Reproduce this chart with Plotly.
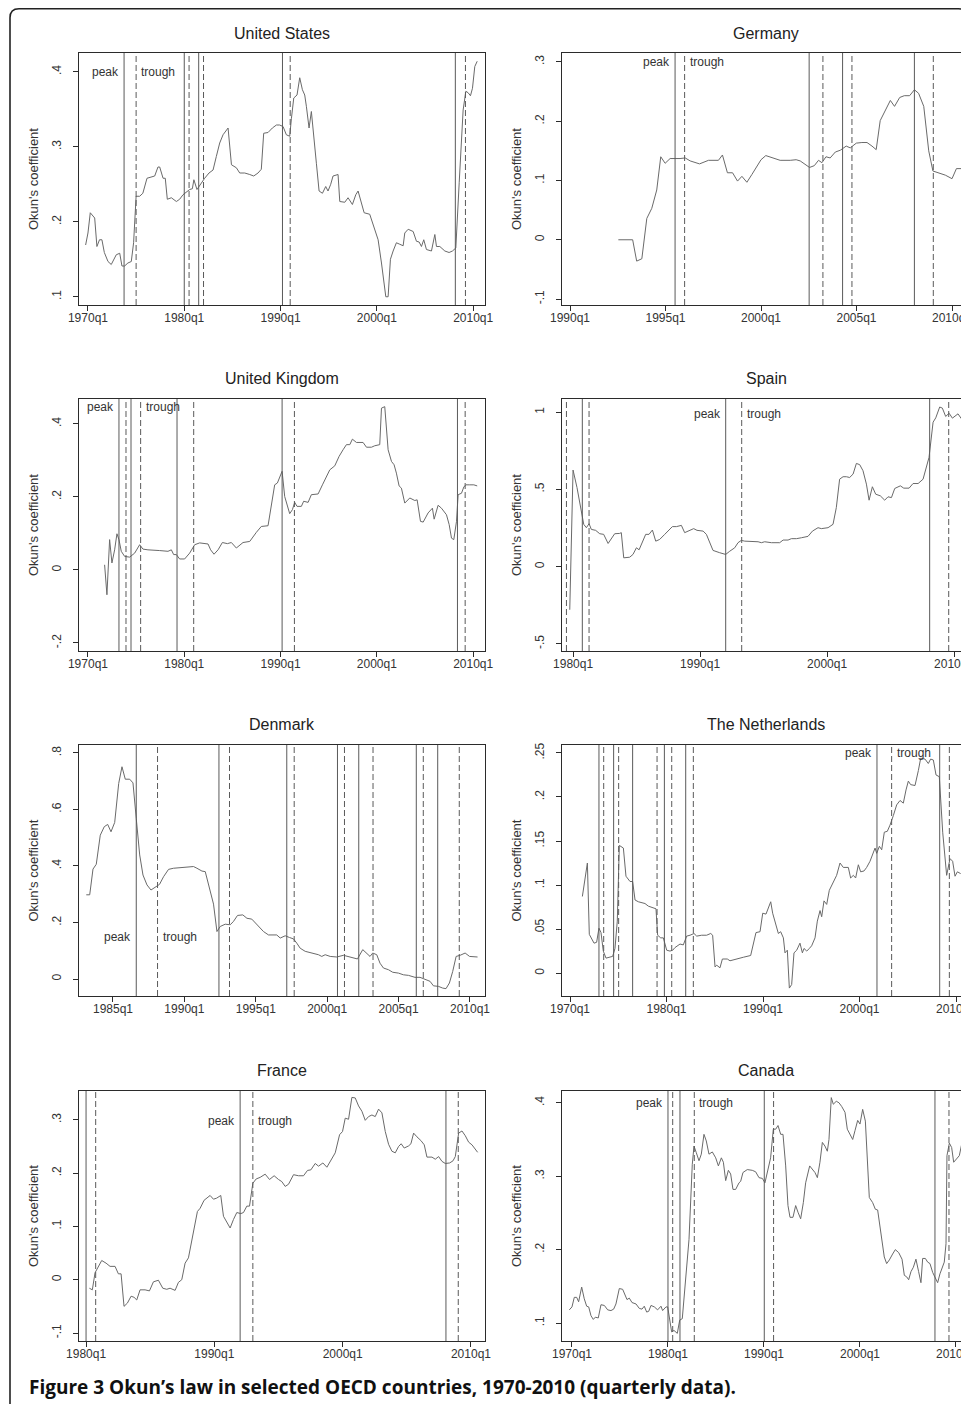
import plotly.graph_objects as go

# page is 969x1404; the page body keeps an 8px margin, so every page
# position is drawn 8px up/left of where it sits in the picture
W, H = 969, 1404
OFF = 8

# ── DATA (quarterly time as decimal year) ───────────────────────────────

# United States
us_t = [1969.76, 1970.0, 1970.24, 1970.7, 1970.93, 1971.2, 1971.45, 1971.7, 1972.08, 1972.42,
        1972.94, 1973.3, 1973.53, 1973.8, 1974.15, 1974.5, 1974.74, 1975.0, 1975.37, 1975.7,
        1976.13, 1976.58, 1976.93, 1977.27, 1977.45, 1977.8, 1978.03, 1978.24, 1978.66, 1979.18,
        1979.52, 1979.87, 1980.2, 1980.56, 1980.84, 1981.0, 1981.32, 1981.78, 1982.12, 1982.57,
        1982.99, 1983.33, 1983.68, 1984.03, 1984.55, 1984.9, 1985.41, 1985.76, 1986.28, 1986.8,
        1987.21, 1987.66, 1988.0, 1988.25, 1988.7, 1989.15, 1989.57, 1989.9, 1990.26, 1990.6,
        1990.95, 1991.13, 1991.37, 1991.71, 1991.99, 1992.27, 1992.51, 1992.68, 1992.96, 1993.2,
        1993.45, 1993.72, 1994.0, 1994.35, 1994.69, 1994.93, 1995.21, 1995.45, 1995.97, 1996.15,
        1996.67, 1997.01, 1997.46, 1997.81, 1998.05, 1998.4, 1998.68, 1999.26, 1999.68, 2000.13,
        2000.48, 2000.72, 2000.93, 2001.17, 2001.41, 2001.69, 2002.03, 2002.38, 2002.73, 2002.9,
        2003.25, 2003.77, 2004.11, 2004.39, 2004.63, 2004.87, 2005.15, 2005.67, 2006.02, 2006.19,
        2006.54, 2007.06, 2007.5, 2007.85, 2008.2, 2008.55, 2008.96, 2009.24, 2009.48, 2009.72,
        2009.93, 2010.17, 2010.42]
us_v = [.169, .185, .212, .205, .167, .176, .176, .159, .147, .143,
        .156, .158, .141, .141, .145, .147, .172, .234, .234, .238,
        .258, .260, .261, .273, .273, .258, .258, .230, .232, .227,
        .230, .236, .239, .243, .244, .256, .243, .252, .258, .265,
        .269, .287, .305, .316, .325, .276, .272, .265, .265, .263,
        .261, .265, .270, .318, .319, .325, .329, .329, .327, .316,
        .314, .338, .365, .369, .392, .376, .369, .354, .325, .347,
        .318, .278, .241, .238, .247, .241, .250, .261, .263, .227,
        .226, .232, .223, .236, .241, .225, .212, .210, .194, .176,
        .145, .119, .100, .100, .150, .161, .172, .170, .168, .185,
        .190, .187, .174, .173, .167, .176, .163, .161, .183, .167,
        .167, .161, .159, .161, .165, .252, .349, .374, .372, .368,
        .378, .407, .414]
us_peaks = [1973.75, 1980.0, 1981.5, 1990.2, 2008.15]
us_troughs = [1975.0, 1980.5, 1982.0, 1991.0, 2009.2]

# Germany
de_t = [1992.53, 1993.28, 1993.49, 1993.76, 1994.02, 1994.28, 1994.54, 1994.75, 1994.98, 1995.24,
        1995.76, 1996.03, 1996.29, 1996.78, 1997.25, 1997.77, 1997.98, 1998.24, 1998.51, 1998.77,
        1999.0, 1999.26, 1999.52, 1999.78, 2000.0, 2000.25, 2000.74, 2001.0, 2001.53, 2001.84,
        2002.05, 2002.31, 2002.54, 2002.79, 2003.01, 2003.19, 2003.4, 2003.62, 2003.89, 2004.15,
        2004.46, 2004.67, 2004.99, 2005.28, 2005.55, 2005.81, 2006.03, 2006.24, 2006.5, 2006.77,
        2006.99, 2007.26, 2007.5, 2007.78, 2008.03, 2008.25, 2008.52, 2008.78, 2009.0, 2009.3,
        2009.65, 2010.0, 2010.23, 2010.47]
de_v = [0, 0, -.036, -.032, .036, .053, .084, .140, .129, .137,
        .137, .138, .133, .128, .134, .134, .143, .113, .113, .099,
        .107, .097, .110, .123, .135, .142, .137, .134, .134, .135,
        .133, .127, .122, .125, .134, .130, .140, .138, .148, .151,
        .158, .155, .163, .164, .164, .158, .152, .201, .218, .235,
        .225, .240, .243, .243, .253, .247, .225, .150, .116, .113,
        .109, .103, .120, .120]
de_peaks = [1995.5, 2002.52, 2004.27, 2008.03]
de_troughs = [1996.0, 2003.24, 2004.76, 2009.02]

# United Kingdom
uk_t = [1971.73, 1971.97, 1972.25, 1972.49, 1972.77, 1973.01, 1973.22, 1973.46, 1973.81, 1974.33,
        1974.85, 1975.37, 1975.71, 1976.23, 1977.45, 1978.31, 1978.66, 1978.9, 1979.18, 1979.52,
        1980.04, 1980.56, 1981.08, 1981.6, 1982.47, 1982.74, 1983.09, 1983.51, 1983.96, 1984.48,
        1984.89, 1985.41, 1986.1, 1986.8, 1987.49, 1988.0, 1988.7, 1989.05, 1989.39, 1989.67,
        1989.91, 1990.16, 1990.43, 1990.71, 1990.95, 1991.23, 1991.47, 1991.71, 1992.16, 1992.4,
        1992.86, 1993.2, 1993.9, 1994.35, 1994.76, 1995.11, 1995.63, 1996.08, 1996.49, 1996.84,
        1997.19, 1997.46, 1997.88, 1998.57, 1998.92, 1999.44, 1999.78, 2000.13, 2000.3, 2000.48,
        2000.82, 2001.17, 2001.52, 2001.79, 2002.03, 2002.31, 2002.55, 2002.9, 2003.42, 2003.94,
        2004.18, 2004.53, 2004.81, 2005.32, 2005.77, 2005.95, 2006.36, 2006.71, 2007.23, 2007.51,
        2007.75, 2007.99, 2008.27, 2008.44, 2008.79, 2009.03, 2009.24, 2009.65, 2010.07, 2010.42]
uk_v = [.014, -.068, .083, .019, .055, .099, .083, .051, .037, .035,
        .046, .069, .057, .055, .053, .051, .055, .042, .042, .030,
        .030, .046, .069, .074, .071, .055, .043, .055, .075, .072,
        .075, .060, .075, .078, .103, .119, .121, .174, .233, .238,
        .256, .270, .201, .174, .154, .165, .185, .174, .174, .188,
        .185, .206, .208, .233, .256, .274, .285, .311, .329, .343,
        .343, .358, .349, .349, .336, .336, .340, .343, .343, .443,
        .447, .329, .297, .288, .265, .230, .224, .183, .197, .190,
        .192, .133, .131, .156, .169, .139, .177, .169, .151, .124,
        .087, .083, .133, .206, .210, .227, .233, .233, .233, .230]
uk_peaks = [1973.22, 1974.47, 1979.25, 1990.16, 2008.37]
uk_troughs = [1973.95, 1975.47, 1980.98, 1991.44, 2009.17]

# Spain
es_t = [1979.74, 1980.0, 1980.31, 1980.66, 1980.84, 1981.05, 1981.26, 1981.44, 1981.78, 1982.1,
        1982.41, 1982.76, 1982.94, 1983.28, 1983.67, 1983.8, 1983.99, 1984.46, 1984.72, 1984.99,
        1985.2, 1985.46, 1985.72, 1985.98, 1986.25, 1986.51, 1986.82, 1987.22, 1987.48, 1987.82,
        1988.14, 1988.53, 1988.79, 1989.19, 1989.5, 1989.76, 1990.24, 1990.5, 1990.76, 1991.02,
        1991.55, 1992.02, 1992.34, 1992.73, 1992.99, 1993.25, 1993.52, 1994.04, 1994.57, 1994.83,
        1995.09, 1995.62, 1996.27, 1996.54, 1996.93, 1997.19, 1997.59, 1997.98, 1998.5, 1998.85,
        1999.29, 1999.55, 2000.08, 2000.47, 2000.73, 2000.99, 2001.26, 2001.52, 2001.78, 2002.05,
        2002.31, 2002.57, 2002.83, 2003.1, 2003.31, 2003.57, 2003.83, 2004.2, 2004.54, 2004.8,
        2005.07, 2005.33, 2005.77, 2006.04, 2006.46, 2006.77, 2007.17, 2007.56, 2007.82, 2008.03,
        2008.35, 2008.56, 2008.87, 2009.08, 2009.34, 2009.61, 2009.87, 2010.13, 2010.31, 2010.58]
es_v = [-.279, .625, .512, .361, .274, .252, .278, .241, .235, .213,
        .209, .150, .170, .213, .215, .220, .057, .061, .079, .122,
        .109, .159, .209, .209, .237, .165, .176, .209, .230, .259,
        .259, .267, .220, .235, .246, .235, .230, .209, .155, .105,
        .090, .079, .100, .122, .155, .170, .165, .165, .161, .155,
        .161, .155, .155, .172, .172, .181, .181, .187, .196, .230,
        .252, .246, .252, .274, .382, .566, .582, .582, .577, .599,
        .668, .660, .621, .534, .430, .517, .469, .458, .430, .452,
        .447, .506, .523, .508, .508, .538, .538, .566, .642, .707,
        .935, .963, 1.033, 1.026, .972, .993, .961, .978, .989, .957]
es_peaks = [1980.73, 1992.02, 2008.08]
es_troughs = [1979.48, 1981.26, 1993.28, 2009.58]

# Denmark
dk_t = [1983.13, 1983.37, 1983.6, 1983.83, 1984.11, 1984.39, 1984.63, 1984.86, 1985.12, 1985.4,
        1985.63, 1985.86, 1986.17, 1986.4, 1986.63, 1986.87, 1987.1, 1987.38, 1987.66, 1987.96,
        1988.26, 1988.54, 1988.89, 1989.24, 1989.94, 1990.64, 1990.88, 1991.23, 1991.46, 1991.76,
        1992.04, 1992.28, 1992.51, 1992.86, 1993.21, 1993.44, 1993.72, 1994.09, 1994.38, 1994.72,
        1994.96, 1995.26, 1995.54, 1995.89, 1996.19, 1996.47, 1996.71, 1997.06, 1997.36, 1997.64,
        1997.87, 1998.11, 1998.46, 1998.92, 1999.39, 1999.62, 1999.86, 2000.21, 2000.67, 2001.14,
        2001.6, 2002.12, 2002.49, 2002.77, 2003.0, 2003.19, 2003.47, 2003.7, 2003.94, 2004.29,
        2004.59, 2004.99, 2005.34, 2005.69, 2006.15, 2006.5, 2006.85, 2007.2, 2007.44, 2007.79,
        2008.09, 2008.32, 2008.56, 2008.79, 2009.03, 2009.31, 2009.66, 2009.97, 2010.53]
dk_v = [.298, .298, .389, .406, .509, .539, .547, .521, .554, .692,
        .751, .707, .707, .694, .568, .439, .368, .333, .315, .324,
        .335, .362, .388, .392, .394, .398, .392, .382, .380, .321,
        .265, .168, .186, .194, .192, .204, .225, .227, .215, .212,
        .198, .182, .168, .156, .156, .156, .145, .153, .147, .142,
        .127, .109, .098, .092, .086, .080, .086, .080, .078, .084,
        .077, .071, .104, .092, .080, .092, .086, .056, .039, .033,
        .024, .021, .015, .013, .006, .006, 0, -.008, -.024, -.026,
        -.032, -.034, -.014, .027, .080, .084, .092, .080, .078]
dk_peaks = [1986.63, 1992.42, 1997.17, 2000.72, 2002.21, 2006.24, 2007.74]
dk_troughs = [1988.12, 1993.16, 1997.69, 2001.21, 2003.21, 2006.73, 2009.25]

# The Netherlands
nl_t = [1971.28, 1971.8, 1972.0, 1972.49, 1972.76, 1973.0, 1973.21, 1973.45, 1973.73, 1974.15,
        1974.42, 1974.66, 1974.9, 1975.11, 1975.53, 1975.8, 1976.22, 1976.49, 1976.74, 1977.08,
        1977.53, 1977.77, 1978.12, 1978.64, 1978.91, 1979.08, 1979.4, 1979.67, 1980.02, 1980.36,
        1980.64, 1980.88, 1981.4, 1981.74, 1982.09, 1982.44, 1982.85, 1983.13, 1983.64, 1984.16,
        1984.58, 1984.78, 1985.03, 1985.2, 1985.54, 1985.79, 1986.3, 1986.58, 1987.2, 1987.96,
        1988.72, 1989.27, 1989.69, 1989.97, 1990.31, 1990.55, 1990.8, 1991.0, 1991.35, 1991.59,
        1991.83, 1992.11, 1992.28, 1992.52, 1992.73, 1992.97, 1993.21, 1993.49, 1993.83, 1994.08,
        1994.25, 1994.53, 1994.8, 1995.04, 1995.39, 1995.63, 1995.91, 1996.08, 1996.32, 1996.6,
        1996.87, 1997.29, 1997.63, 1997.98, 1998.32, 1998.84, 1999.08, 1999.36, 1999.6, 1999.88,
        2000.12, 2000.47, 2000.74, 2001.09, 2001.43, 2001.61, 2001.78, 2002.06, 2002.3, 2002.57,
        2002.88, 2003.16, 2003.51, 2003.85, 2004.2, 2004.54, 2004.82, 2005.06, 2005.3, 2005.75,
        2006.1, 2006.34, 2006.79, 2007.13, 2007.37, 2007.65, 2007.93, 2008.27, 2008.62, 2009.03,
        2009.38, 2009.65, 2009.9, 2010.14, 2010.48]
nl_v = [.087, .125, .044, .034, .035, .051, .046, .025, .017, .018,
        .019, .028, .059, .145, .142, .110, .104, .104, .083, .081,
        .080, .079, .076, .074, .073, .043, .040, .040, .026, .025,
        .026, .029, .033, .032, .042, .043, .045, .042, .043, .043,
        .045, .043, .007, .009, .006, .016, .016, .014, .016, .018,
        .020, .046, .047, .068, .067, .074, .081, .068, .055, .045,
        .047, .040, .023, .026, -.017, -.013, .023, .026, .034, .023,
        .028, .025, .028, .031, .040, .059, .071, .064, .082, .078,
        .094, .104, .111, .125, .120, .120, .108, .111, .108, .123,
        .115, .116, .120, .127, .138, .142, .136, .144, .140, .160,
        .161, .168, .179, .191, .196, .193, .208, .218, .214, .213,
        .230, .244, .243, .238, .243, .242, .225, .223, .160, .111,
        .130, .127, .110, .115, .113]
nl_peaks = [1973.0, 1974.52, 1976.49, 1979.78, 1981.99, 2001.81, 2008.31]
nl_troughs = [1973.49, 1975.04, 1979.02, 1980.54, 1982.78, 2003.33, 2009.31]

# France
fr_t = [1980.26, 1980.49, 1980.7, 1980.96, 1981.22, 1981.56, 1981.87, 1982.26, 1982.52, 1982.73,
        1982.96, 1983.22, 1983.51, 1983.74, 1983.95, 1984.21, 1984.6, 1984.94, 1985.25, 1985.64,
        1985.98, 1986.29, 1986.55, 1986.94, 1987.2, 1987.46, 1987.72, 1987.98, 1988.32, 1988.68,
        1988.89, 1989.2, 1989.67, 1989.93, 1990.18, 1990.5, 1990.71, 1990.92, 1991.23, 1991.49,
        1991.75, 1992.06, 1992.27, 1992.53, 1992.74, 1993.0, 1993.26, 1993.57, 1993.96, 1994.3,
        1994.66, 1995.0, 1995.26, 1995.52, 1995.78, 1996.17, 1996.56, 1996.95, 1997.26, 1997.52,
        1997.86, 1998.12, 1998.46, 1998.77, 1999.08, 1999.42, 1999.76, 1999.99, 2000.2, 2000.46,
        2000.72, 2000.98, 2001.24, 2001.5, 2001.76, 2002.02, 2002.28, 2002.54, 2002.8, 2003.06,
        2003.32, 2003.58, 2003.84, 2004.1, 2004.36, 2004.56, 2004.8, 2005.14, 2005.32, 2005.53,
        2005.79, 2006.1, 2006.36, 2006.57, 2006.96, 2007.22, 2007.48, 2007.74, 2008.0, 2008.34,
        2008.6, 2008.78, 2009.04, 2009.3, 2009.56, 2009.82, 2010.08, 2010.26, 2010.52]
fr_v = [-.016, -.019, .013, .025, .036, .031, .025, .025, .011, .011,
        -.050, -.044, -.031, -.033, -.038, -.019, -.019, -.021, -.004, -.001,
        -.016, -.018, -.016, -.020, -.005, 0, .031, .041, .081, .128,
        .134, .149, .158, .151, .153, .158, .119, .109, .097, .113,
        .126, .124, .126, .138, .138, .181, .189, .192, .198, .188,
        .195, .188, .184, .175, .179, .197, .195, .195, .205, .206,
        .218, .213, .219, .211, .225, .238, .272, .278, .303, .301,
        .342, .341, .326, .316, .299, .306, .309, .306, .320, .313,
        .278, .254, .241, .238, .250, .255, .247, .251, .255, .275,
        .268, .261, .253, .230, .230, .226, .231, .222, .218, .219,
        .223, .231, .275, .279, .270, .258, .253, .247, .239]
fr_peaks = [1980.0, 1992.01, 2008.05]
fr_troughs = [1980.75, 1993.0, 2009.01]

# Canada
ca_t = [1969.72, 1970.0, 1970.24, 1970.49, 1970.69, 1971.01, 1971.28, 1971.53, 1971.74, 1971.98,
        1972.22, 1972.43, 1972.74, 1973.02, 1973.37, 1973.72, 1974.06, 1974.34, 1974.58, 1974.93,
        1975.28, 1975.52, 1975.73, 1975.97, 1976.25, 1976.67, 1977.01, 1977.29, 1977.53, 1977.78,
        1977.99, 1978.23, 1978.58, 1978.92, 1979.27, 1979.44, 1979.79, 1979.97, 1980.1, 1980.38,
        1980.62, 1980.97, 1981.22, 1981.49, 1981.84, 1982.19, 1982.53, 1982.71, 1982.95, 1983.23,
        1983.47, 1983.75, 1983.99, 1984.27, 1984.62, 1984.97, 1985.25, 1985.56, 1985.77, 1986.01,
        1986.29, 1986.53, 1986.77, 1987.05, 1987.4, 1987.57, 1987.81, 1988.26, 1988.78, 1989.13,
        1989.48, 1989.83, 1990.1, 1990.35, 1990.69, 1990.97, 1991.22, 1991.46, 1991.74, 1991.98,
        1992.26, 1992.5, 1992.71, 1993.02, 1993.3, 1993.54, 1993.82, 1994.1, 1994.34, 1994.76,
        1995.03, 1995.31, 1995.56, 1995.83, 1996.08, 1996.35, 1996.6, 1996.77, 1997.01, 1997.22,
        1997.53, 1997.81, 1998.09, 1998.44, 1998.68, 1998.92, 1999.24, 1999.48, 1999.76, 2000.0,
        2000.28, 2000.56, 2000.8, 2000.97, 2001.32, 2001.6, 2001.84, 2002.08, 2002.29, 2002.53,
        2002.78, 2003.06, 2003.4, 2003.68, 2004.03, 2004.38, 2004.62, 2004.86, 2005.07, 2005.31,
        2005.56, 2005.83, 2006.11, 2006.35, 2006.53, 2006.81, 2007.05, 2007.29, 2007.57, 2007.85,
        2008.09, 2008.33, 2008.54, 2008.78, 2008.96, 2009.06, 2009.31, 2009.55, 2009.76, 2010.0,
        2010.35, 2010.63]
ca_v = [.118, .122, .135, .135, .129, .149, .133, .123, .122, .110,
        .105, .108, .107, .125, .124, .118, .117, .119, .126, .147,
        .146, .138, .132, .134, .128, .126, .120, .119, .123, .115,
        .116, .124, .122, .118, .123, .117, .122, .122, .110, .088,
        .090, .086, .104, .106, .160, .214, .316, .341, .332, .321,
        .330, .357, .348, .330, .333, .325, .314, .325, .319, .294,
        .308, .303, .282, .282, .291, .293, .305, .309, .308, .306,
        .298, .297, .291, .305, .325, .364, .364, .369, .357, .357,
        .314, .260, .244, .244, .260, .251, .242, .264, .291, .314,
        .310, .305, .298, .319, .346, .341, .334, .350, .407, .398,
        .402, .400, .395, .387, .364, .357, .350, .362, .376, .371,
        .391, .375, .323, .271, .264, .255, .254, .233, .208, .190,
        .181, .186, .194, .200, .196, .187, .165, .163, .159, .170,
        .176, .187, .170, .155, .188, .188, .183, .181, .169, .161,
        .155, .167, .176, .183, .208, .328, .345, .339, .319, .323,
        .328, .346]
ca_peaks = [1980.0, 1981.25, 1990.03, 2007.81]
ca_troughs = [1980.49, 1982.74, 1991.0, 2009.27]

# tick values / labels
x_ticks_70 = [1970, 1980, 1990, 2000, 2010]
x_text_70 = ['1970q1', '1980q1', '1990q1', '2000q1', '2010q1']
x_ticks_80 = [1980, 1990, 2000, 2010]
x_text_80 = ['1980q1', '1990q1', '2000q1', '2010q1']
x_ticks_de = [1990, 1995, 2000, 2005, 2010]
x_text_de = ['1990q1', '1995q1', '2000q1', '2005q1', '2010q1']
x_ticks_dk = [1985, 1990, 1995, 2000, 2005, 2010]
x_text_dk = ['1985q1', '1990q1', '1995q1', '2000q1', '2005q1', '2010q1']

y_ticks_us = [.1, .2, .3, .4]
y_text_us = ['.1', '.2', '.3', '.4']
y_ticks_de = [-.1, 0, .1, .2, .3]
y_text_de = ['-.1', '0', '.1', '.2', '.3']
y_ticks_uk = [-.2, 0, .2, .4]
y_text_uk = ['-.2', '0', '.2', '.4']
y_ticks_es = [-.5, 0, .5, 1]
y_text_es = ['-.5', '0', '.5', '1']
y_ticks_dk = [0, .2, .4, .6, .8]
y_text_dk = ['0', '.2', '.4', '.6', '.8']
y_ticks_nl = [0, .05, .1, .15, .2, .25]
y_text_nl = ['0', '.05', '.1', '.15', '.2', '.25']

# ── PANEL SETUP (positions in picture pixels) ───────────────────────────
LEFT = (79, 485)
RIGHT = (562, 969)
ROWS = [(53, 305), (399, 651), (745, 996), (1091, 1341)]
TITLE_Y = [33, 378, 724, 1070]

# x axis: value at the left edge of the box and pixels per year
panels = [
    dict(name='United States', t=us_t, v=us_v, pk=us_peaks, tr=us_troughs, col=LEFT, row=0,
         xl=1969.07, ppy=9.63, yr=[0.089, 0.425], xt=(x_ticks_70, x_text_70), yt=(y_ticks_us, y_text_us),
         lab=(1973.75, 1975.0, 0.4)),
    dict(name='Germany', t=de_t, v=de_v, pk=de_peaks, tr=de_troughs, col=RIGHT, row=0,
         xl=1989.58, ppy=19.1, yr=[-0.110, 0.315], xt=(x_ticks_de, x_text_de), yt=(y_ticks_de, y_text_de),
         lab=(1995.5, 1996.0, 0.3)),
    dict(name='United Kingdom', t=uk_t, v=uk_v, pk=uk_peaks, tr=uk_troughs, col=LEFT, row=1,
         xl=1969.07, ppy=9.63, yr=[-0.222, 0.468], xt=(x_ticks_70, x_text_70), yt=(y_ticks_uk, y_text_uk),
         lab=(1973.22, 1975.47, 0.446)),
    dict(name='Spain', t=es_t, v=es_v, pk=es_peaks, tr=es_troughs, col=RIGHT, row=1,
         xl=1979.13, ppy=12.7, yr=[-0.546, 1.085], xt=(x_ticks_80, x_text_80), yt=(y_ticks_es, y_text_es),
         lab=(1992.02, 1993.28, 0.99)),
    dict(name='Denmark', t=dk_t, v=dk_v, pk=dk_peaks, tr=dk_troughs, col=LEFT, row=2,
         xl=1982.62, ppy=14.28, yr=[-0.060, 0.828], xt=(x_ticks_dk, x_text_dk), yt=(y_ticks_dk, y_text_dk),
         lab=(1986.63, 1988.12, 0.147)),
    dict(name='The Netherlands', t=nl_t, v=nl_v, pk=nl_peaks, tr=nl_troughs, col=RIGHT, row=2,
         xl=1969.17, ppy=9.65, yr=[-0.026, 0.259], xt=(x_ticks_70, x_text_70), yt=(y_ticks_nl, y_text_nl),
         lab=(2001.81, 2003.33, 0.25)),
    dict(name='France', t=fr_t, v=fr_v, pk=fr_peaks, tr=fr_troughs, col=LEFT, row=3,
         xl=1979.45, ppy=12.83, yr=[-0.115, 0.354], xt=(x_ticks_80, x_text_80), yt=(y_ticks_de, y_text_de),
         lab=(1992.01, 1993.0, 0.298)),
    dict(name='Canada', t=ca_t, v=ca_v, pk=ca_peaks, tr=ca_troughs, col=RIGHT, row=3,
         xl=1968.96, ppy=9.6, yr=[0.0756, 0.416], xt=(x_ticks_70, x_text_70), yt=(y_ticks_us, y_text_us),
         lab=(1980.0, 1982.74, 0.4)),
]

FONT = 'Liberation Sans, Arial, sans-serif'
AXIS_C = '#2b2b2b'
LINE_C = '#6a6a6a'
REC_C = '#5a5a5a'


def px_x(p):
    return (p - OFF) / W


def px_y(p):
    return 1 - (p - OFF) / H


fig = go.Figure()
layout = {}
shapes = []
annotations = []

for i, p in enumerate(panels):
    assert len(p['t']) == len(p['v']), p['name']
    n = '' if i == 0 else str(i + 1)
    xa, ya = 'x' + n, 'y' + n
    x0, x1 = p['col']
    y0, y1 = ROWS[p['row']]
    xrange = [p['xl'], p['xl'] + (x1 - x0) / p['ppy']]

    fig.add_trace(go.Scatter(
        x=p['t'], y=p['v'], mode='lines', xaxis=xa, yaxis=ya,
        line=dict(color=LINE_C, width=1), showlegend=False, hoverinfo='skip'
    ))

    layout['xaxis' + n] = dict(
        domain=[px_x(x0), px_x(x1)], range=xrange, anchor=ya, automargin=False,
        tickvals=p['xt'][0], ticktext=p['xt'][1], ticks='outside', ticklen=5,
        tickcolor=AXIS_C, tickwidth=1, showline=True, linecolor=AXIS_C, linewidth=1.3,
        mirror=True, showgrid=False, zeroline=False, ticklabelstandoff=-4,
        tickfont=dict(family=FONT, size=12, color='#333')
    )
    layout['yaxis' + n] = dict(
        domain=[px_y(y1), px_y(y0)], range=p['yr'], anchor=xa, automargin=False,
        tickvals=p['yt'][0], ticktext=p['yt'][1], ticks='outside', ticklen=5,
        tickcolor=AXIS_C, tickwidth=1, showline=True, linecolor=AXIS_C, linewidth=1.3,
        mirror=True, showgrid=False, zeroline=False, tickangle=-90,
        ticklabelstandoff=7,
        tickfont=dict(family=FONT, size=12, color='#333')
    )

    # recession peaks (solid) and troughs (dashed)
    for xv in p['pk']:
        shapes.append(dict(type='line', xref=xa, yref=ya + ' domain', x0=xv, x1=xv, y0=0, y1=1,
                           line=dict(color=REC_C, width=1)))
    for xv in p['tr']:
        shapes.append(dict(type='line', xref=xa, yref=ya + ' domain', x0=xv, x1=xv, y0=0, y1=1,
                           line=dict(color=REC_C, width=1, dash='6px,3px')))

    pk_x, tr_x, lab_y = p['lab']
    annotations.append(dict(x=pk_x, y=lab_y, xref=xa, yref=ya, text='peak', showarrow=False,
                            xanchor='right', yanchor='middle', xshift=-3,
                            font=dict(family=FONT, size=12, color='#333')))
    annotations.append(dict(x=tr_x, y=lab_y, xref=xa, yref=ya, text='trough', showarrow=False,
                            xanchor='left', yanchor='middle', xshift=3,
                            font=dict(family=FONT, size=12, color='#333')))

    # panel title
    tx = (x0 + x1) / 2 if p['col'] == LEFT else 766
    annotations.append(dict(x=px_x(tx), y=px_y(TITLE_Y[p['row']]),
                            xref='paper', yref='paper', text=p['name'], showarrow=False,
                            xanchor='center', yanchor='middle',
                            font=dict(family=FONT, size=16, color='#222')))
    # y axis title
    annotations.append(dict(x=px_x(x0 - 46), y=px_y((y0 + y1) / 2), xref='paper', yref='paper',
                            text="Okun's coefficient", showarrow=False, textangle=-90,
                            xanchor='center', yanchor='middle',
                            font=dict(family=FONT, size=13, color='#333')))

# caption
annotations.append(dict(x=px_x(27), y=px_y(1387), xref='paper', yref='paper',
                        text='<b>Figure 3 Okun’s law in selected OECD countries, 1970-2010 (quarterly data).</b>',
                        showarrow=False, xanchor='left', yanchor='middle',
                        font=dict(family='Open Sans, sans-serif', size=19, color='#111')))

# outer frame with rounded top corners
frame = 'M {l},{b} L {l},{t1} Q {l},{t0} {l1},{t0} L {r1},{t0} Q {r},{t0} {r},{t1} L {r},{b}'.format(
    l=px_x(10), r=px_x(967.5), l1=px_x(19), r1=px_x(958.5),
    t0=px_y(8.8), t1=px_y(17.8), b=0.0)
shapes.append(dict(type='path', xref='paper', yref='paper', path=frame,
                   line=dict(color='#222', width=1.6)))

fig.update_layout(
    template='none',
    width=W, height=H,
    margin=dict(l=0, r=0, t=0, b=0, pad=0, autoexpand=False),
    paper_bgcolor='white', plot_bgcolor='white',
    shapes=shapes, annotations=annotations, showlegend=False,
    **layout
)

fig.write_html('out.html')
